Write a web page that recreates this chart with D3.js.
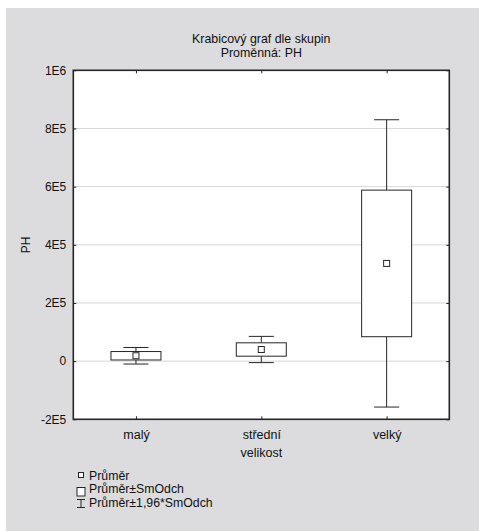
<!DOCTYPE html>
<html>
<head>
<meta charset="utf-8">
<script src="https://cdn.jsdelivr.net/npm/d3@7"></script>
<style>
  html, body { margin: 0; padding: 0; background: #ffffff; }
  svg { display: block; }
  text { font-family: "Liberation Sans", Arial, sans-serif; fill: #111; }
</style>
</head>
<body>
<svg id="chart" width="479" height="531"></svg>
<script>
// Group categories and their summary statistics
const categories = ["malý", "střední", "velký"];
const means = [18500, 40000, 336000];
const sds = [14500, 23000, 252000];

// Y axis ticks and their labels
const yTickValues = [-200000, 0, 200000, 400000, 600000, 800000, 1000000];
const yTickLabels = ["-2E5", "0", "2E5", "4E5", "6E5", "8E5", "1E6"];

const titleLines = ["Krabicový graf dle skupin", "Proměnná: PH"];
const xTitle = "velikost";
const yTitle = "PH";
const legendItems = ["Průměr", "Průměr±SmOdch", "Průměr±1,96*SmOdch"];

const svg = d3.select("#chart");
const W = 479, H = 531;
const plot = { left: 73.3, right: 449.3, top: 70.3, bottom: 419.3 };
const ink = "#262626";

// Panel background
svg.append("rect")
  .attr("x", 6).attr("y", 8).attr("width", W - 6).attr("height", H - 8)
  .attr("fill", "#dcdcde");

// Plot area
svg.append("rect")
  .attr("x", plot.left).attr("y", plot.top)
  .attr("width", plot.right - plot.left).attr("height", plot.bottom - plot.top)
  .attr("fill", "#ffffff");

const x = d3.scalePoint().domain(categories).range([plot.left, plot.right]).padding(0.5);
const y = d3.scaleLinear().domain([-200000, 1000000]).range([plot.bottom, plot.top]);

// Gridlines
svg.append("g").selectAll("line")
  .data(yTickValues.filter(v => v > -200000 && v < 1000000))
  .join("line")
  .attr("x1", plot.left).attr("x2", plot.right)
  .attr("y1", d => y(d)).attr("y2", d => y(d))
  .attr("stroke", "#d6d6d6").attr("stroke-width", 1);

// Axes with inward ticks
const fmt = d => yTickLabels[yTickValues.indexOf(d)];
const leftAxis = svg.append("g").attr("transform", `translate(${plot.left},0)`)
  .call(d3.axisLeft(y).tickValues(yTickValues).tickFormat(fmt).tickSizeInner(-3).tickSizeOuter(0).tickPadding(7));
const rightAxis = svg.append("g").attr("transform", `translate(${plot.right},0)`)
  .call(d3.axisRight(y).tickValues(yTickValues).tickFormat("").tickSizeInner(-3).tickSizeOuter(0));
const bottomAxis = svg.append("g").attr("transform", `translate(0,${plot.bottom})`)
  .call(d3.axisBottom(x).tickSizeInner(-3).tickSizeOuter(0).tickPadding(11));
const topAxis = svg.append("g").attr("transform", `translate(0,${plot.top})`)
  .call(d3.axisTop(x).tickFormat("").tickSizeInner(-3).tickSizeOuter(0));

[leftAxis, rightAxis, bottomAxis, topAxis].forEach(g => {
  g.select(".domain").remove();
  g.selectAll(".tick line").attr("stroke", ink).attr("stroke-width", 1);
  g.selectAll(".tick text").attr("font-size", 12).attr("fill", "#111")
    .style("font-family", '"Liberation Sans", Arial, sans-serif');
});
bottomAxis.selectAll(".tick text").attr("font-size", 12.5);

// Frame
svg.append("rect")
  .attr("x", plot.left).attr("y", plot.top)
  .attr("width", plot.right - plot.left).attr("height", plot.bottom - plot.top)
  .attr("fill", "none").attr("stroke", ink).attr("stroke-width", 1.6);

// Box and whisker marks: box = mean ± SD, whiskers = mean ± 1.96·SD
const boxW = 50, capW = 25, markS = 6;
const groups = svg.append("g").selectAll("g")
  .data(categories.map((c, i) => ({ c, m: means[i], s: sds[i] })))
  .join("g");

groups.append("line")
  .attr("x1", d => x(d.c)).attr("x2", d => x(d.c))
  .attr("y1", d => y(d.m + 1.96 * d.s)).attr("y2", d => y(d.m + d.s))
  .attr("stroke", ink);
groups.append("line")
  .attr("x1", d => x(d.c)).attr("x2", d => x(d.c))
  .attr("y1", d => y(d.m - d.s)).attr("y2", d => y(d.m - 1.96 * d.s))
  .attr("stroke", ink);
groups.append("line")
  .attr("x1", d => x(d.c) - capW / 2).attr("x2", d => x(d.c) + capW / 2)
  .attr("y1", d => y(d.m + 1.96 * d.s)).attr("y2", d => y(d.m + 1.96 * d.s))
  .attr("stroke", ink);
groups.append("line")
  .attr("x1", d => x(d.c) - capW / 2).attr("x2", d => x(d.c) + capW / 2)
  .attr("y1", d => y(d.m - 1.96 * d.s)).attr("y2", d => y(d.m - 1.96 * d.s))
  .attr("stroke", ink);
groups.append("rect")
  .attr("x", d => x(d.c) - boxW / 2).attr("width", boxW)
  .attr("y", d => y(d.m + d.s)).attr("height", d => y(d.m - d.s) - y(d.m + d.s))
  .attr("fill", "#ffffff").attr("stroke", ink).attr("stroke-width", 1);
groups.append("rect")
  .attr("x", d => x(d.c) - markS / 2).attr("width", markS)
  .attr("y", d => y(d.m) - markS / 2).attr("height", markS)
  .attr("fill", "#ffffff").attr("stroke", ink).attr("stroke-width", 1);

// Titles
svg.append("text").attr("x", 261.3).attr("y", 43).attr("text-anchor", "middle")
  .attr("font-size", 12.4).text(titleLines[0]);
svg.append("text").attr("x", 261.3).attr("y", 57).attr("text-anchor", "middle")
  .attr("font-size", 12.4).text(titleLines[1]);
svg.append("text").attr("x", 261.3).attr("y", 457).attr("text-anchor", "middle")
  .attr("font-size", 12.5).text(xTitle);
svg.append("text").attr("transform", "translate(30,245) rotate(-90)")
  .attr("text-anchor", "middle").attr("font-size", 12).text(yTitle);

// Legend
const lg = svg.append("g");
const lx = 81, ltx = 89;
lg.append("rect").attr("x", 78.5).attr("y", 472.5).attr("width", 5).attr("height", 5)
  .attr("fill", "#fff").attr("stroke", ink);
lg.append("rect").attr("x", 77).attr("y", 487.5).attr("width", 8).attr("height", 8.5)
  .attr("fill", "#fff").attr("stroke", ink);
lg.append("line").attr("x1", lx).attr("x2", lx).attr("y1", 499.5).attr("y2", 507.5).attr("stroke", ink);
lg.append("line").attr("x1", 77).attr("x2", 85).attr("y1", 499.5).attr("y2", 499.5).attr("stroke", ink);
lg.append("line").attr("x1", 77).attr("x2", 85).attr("y1", 507.5).attr("y2", 507.5).attr("stroke", ink);
lg.selectAll("text").data(legendItems).join("text")
  .attr("x", ltx).attr("y", (d, i) => 479.5 + i * 13.5)
  .attr("font-size", 12.3).text(d => d);
</script>
</body>
</html>
